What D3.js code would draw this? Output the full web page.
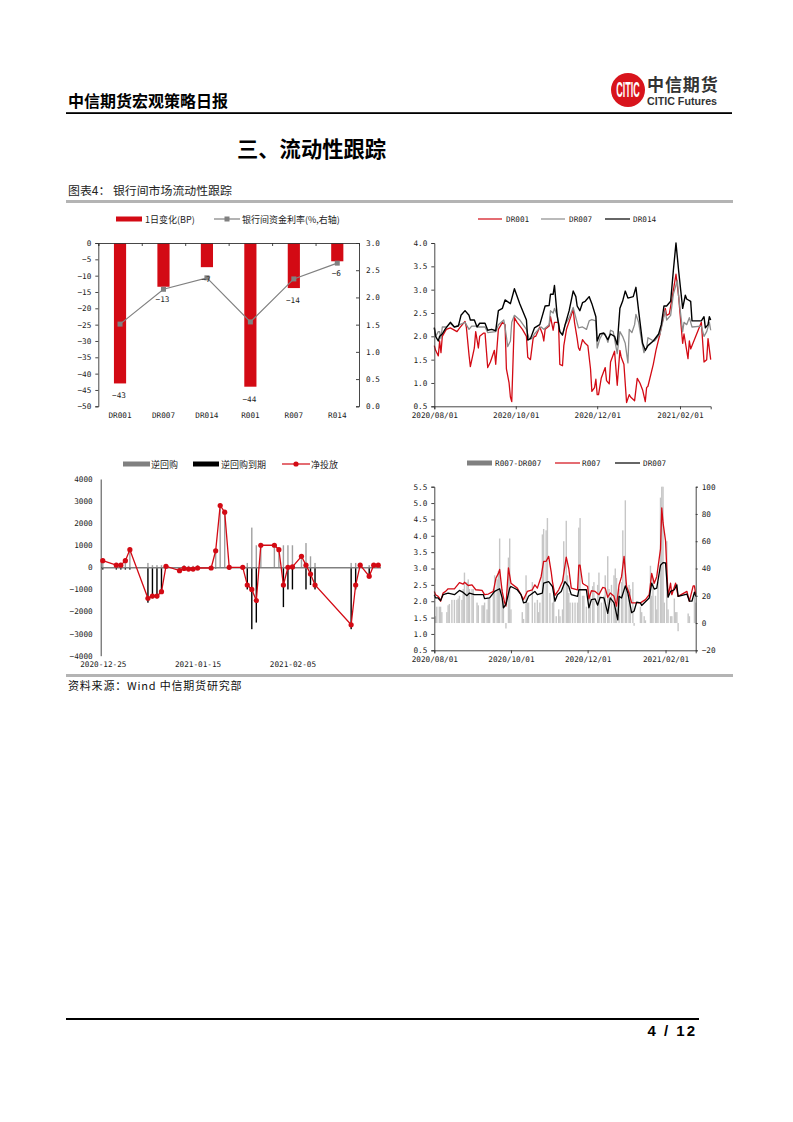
<!DOCTYPE html>
<html><head><meta charset="utf-8">
<script src="https://cdn.jsdelivr.net/npm/d3@7"></script>
<style>
html,body{margin:0;background:#fff}
svg{display:block}
.t{font-family:"DejaVu Sans Mono","Liberation Mono",monospace;font-size:7.7px;fill:#222}
.cn{font-family:"Noto Sans CJK SC",sans-serif;font-size:9px;fill:#222}
.axis text{font-family:"DejaVu Sans Mono","Liberation Mono",monospace;font-size:7.7px;fill:#222}
.axis path,.axis line{stroke:#333;stroke-width:.9}
</style></head><body><svg id="p" width="793" height="1122" xmlns="http://www.w3.org/2000/svg"></svg>
<script>
// ---------- Chart 1
const cat1=["DR001","DR007","DR014","R001","R007","R014"];
const change1=[-43,-13.4,-7.4,-44,-13.8,-5.6];
const rate1=[1.51,2.15,2.36,1.55,2.34,2.63];
// ---------- Chart 2 (days after 2020-08-01)
const dr001Days=[0,1,3,4,5,6,8,9,12,14,17,19,23,24,26,27,30,31,33,34,37,38,40,42,45,46,48,51,53,54,56,57,58,60,62,66,69,70,72,74,75,76,79,81,82,83,86,87,89,90,93,94,96,97,99,102,104,105,107,108,109,111,113,115,117,118,120,121,122,123,125,128,129,131,132,135,137,139,140,142,144,146,147,150,152,154,156,158,159,160,164,166,169,170,173,174,176,178,181,183,184,186,187,190,191,192,200,202,204,205,207];
const dr001=[1.8,1.7,1.58,1.9,1.65,2.0,2.1,2.15,2.18,2.15,2.1,2.18,2.32,2.2,1.6,1.35,1.75,2.1,1.75,2.0,2.07,2.07,1.33,1.45,1.7,1.4,2.15,2.3,2.25,1.3,1.0,0.7,0.6,2.4,2.3,2.15,2.0,1.55,1.5,1.95,2.0,2.0,2.2,2.05,1.9,2.15,2.22,2.42,2.13,2.3,2.3,1.4,1.37,1.8,2.15,2.4,2.58,2.3,1.95,1.75,1.7,1.93,1.85,1.8,1.3,0.82,0.9,1.08,0.75,0.75,1.1,1.33,1.05,0.98,1.45,1.68,0.95,1.7,1.55,1.4,0.58,0.75,0.7,0.62,1.1,1.0,0.85,0.6,0.9,0.93,1.4,1.7,2.05,2.2,2.6,2.45,2.48,2.8,3.33,2.85,2.5,1.85,2.05,1.52,1.9,1.73,2.3,1.45,1.5,1.95,1.5];
const dr007Days=[0,1,3,4,5,6,9,12,15,19,23,26,28,31,33,38,40,46,48,52,53,55,57,58,60,64,69,71,73,75,78,80,82,86,87,89,90,92,94,96,98,101,104,106,108,111,114,116,118,121,122,124,126,128,130,132,134,137,139,141,143,145,146,148,150,151,153,155,157,159,160,163,165,169,171,173,174,177,179,182,183,186,187,189,191,193,200,202,204,206,207];
const dr007=[2.2,2.0,2.1,2.1,1.95,2.2,2.2,2.28,2.2,2.25,2.3,2.15,2.22,2.22,2.2,2.2,2.08,2.1,2.25,2.35,2.2,1.78,1.9,2.3,2.45,2.35,2.15,1.95,1.95,2.05,2.15,2.2,2.15,2.25,2.55,2.5,2.6,2.45,2.1,2.02,2.25,2.4,2.62,2.4,2.18,2.2,2.15,2.33,2.36,2.33,1.75,1.95,2.05,2.05,1.87,2.13,2.1,1.63,2.1,2.0,1.85,1.43,2.15,2.08,2.25,2.47,2.3,1.95,1.65,1.75,1.97,1.92,1.9,2.05,2.3,2.55,2.35,2.45,2.9,3.2,2.85,2.1,2.3,2.25,2.4,2.2,2.22,2.0,2.1,2.3,2.13];
const dr014Days=[0,1,3,4,6,8,12,15,18,20,23,26,27,30,32,34,38,40,43,46,48,51,53,57,60,64,69,70,72,75,79,81,83,86,87,89,90,92,94,96,98,101,104,106,107,109,111,113,116,118,121,122,124,127,130,132,135,137,139,141,143,145,149,151,153,156,158,160,164,168,170,172,174,177,179,181,183,186,188,189,192,193,200,202,203,205,206,207];
const dr014=[2.18,2.0,1.9,2.0,2.05,2.15,2.3,2.2,2.22,2.45,2.55,2.45,2.35,2.35,2.2,2.28,2.28,2.13,2.15,2.12,2.55,2.6,2.78,2.7,3.02,2.7,2.35,1.92,1.95,2.18,2.25,2.45,2.65,2.66,2.9,2.9,3.09,2.45,2.1,2.03,2.25,2.55,2.97,2.85,2.65,2.55,2.72,2.75,2.85,2.7,2.42,1.9,2.05,2.07,1.93,2.05,2.0,1.82,2.6,2.75,2.97,2.82,2.85,3.05,2.55,1.85,1.7,1.8,1.9,2.05,2.25,2.65,2.65,2.75,3.4,4.0,3.4,2.6,2.88,2.8,2.75,2.33,2.33,2.42,2.18,2.25,2.42,2.35];
const monthTicks=["2020-08-01","2020-10-01","2020-12-01","2021-02-01"];
// ---------- Chart 3
const omoDates=["2020-12-25","2020-12-28","2020-12-29","2020-12-30","2020-12-31","2021-01-04","2021-01-05","2021-01-06","2021-01-07","2021-01-08","2021-01-11","2021-01-12","2021-01-13","2021-01-14","2021-01-15","2021-01-18","2021-01-19","2021-01-20","2021-01-21","2021-01-22","2021-01-25","2021-01-26","2021-01-27","2021-01-28","2021-01-29","2021-02-01","2021-02-02","2021-02-03","2021-02-04","2021-02-05","2021-02-07","2021-02-08","2021-02-09","2021-02-10","2021-02-18","2021-02-19","2021-02-20","2021-02-22","2021-02-23","2021-02-24"];
const reverseRepo=[400,200,200,400,900,200,100,100,100,100,0,100,70,70,100,0,800,2800,2500,100,0,200,1800,1000,1000,1000,800,1000,1000,1000,500,1100,500,200,200,200,100,100,100,100];
const repoExpiry=[-100,-100,-100,-100,-100,-1600,-1400,-1400,-1200,-50,-150,-150,-150,-150,-130,-30,-50,0,0,-100,0,-1000,-2800,-2500,0,0,0,-1800,-1000,-1000,0,-1000,-800,-1000,-2800,-1000,0,-500,0,0];
const netInjection=[300,100,100,300,800,-1400,-1300,-1300,-1100,50,-150,-50,-80,-80,-30,-30,750,2800,2500,0,0,-800,-1000,-1500,1000,1000,800,-800,0,20,500,100,-300,-800,-2600,-800,100,-400,100,100];
const omoTicks=["2020-12-25","2021-01-15","2021-02-05"];
// ---------- Chart 4
const spreadDays=[1,2,4,5,6,10,11,12,14,16,18,19,20,22,23,24,26,27,28,30,31,34,35,38,39,40,42,43,44,47,48,50,51,52,54,55,57,59,60,61,70,71,73,74,75,78,80,82,83,84,86,87,89,90,92,94,95,97,99,100,102,103,105,106,107,108,110,112,114,115,116,118,119,121,123,124,126,127,130,131,133,135,136,138,139,141,143,144,145,147,149,150,152,153,155,156,158,159,164,165,167,168,172,173,174,176,177,178,180,181,182,183,185,186,188,189,191,192,193,194,202,203,207,208];
const spread=[5,12,12,12,8,8,13,14,17,17,17,18,20,17,25,37,30,32,25,25,25,15,13,13,13,15,10,18,18,25,35,32,38,62,25,16,-4,48,62,10,8,3,35,15,15,30,15,17,8,15,65,69,68,77,22,15,25,5,10,5,10,60,75,35,22,15,15,15,15,70,77,20,20,12,37,22,27,30,28,37,15,20,35,49,25,28,35,40,33,25,30,68,90,25,28,25,30,-2,12,8,5,2,42,20,33,20,10,30,92,100,100,15,60,10,5,5,18,8,8,-6,7,5,20,15];
const r007Days=[0,1,3,4,5,7,9,11,16,20,23,24,27,30,33,38,40,43,47,49,51,52,54,56,57,59,61,66,69,71,74,78,80,82,85,87,89,91,93,94,96,99,102,105,107,109,114,115,116,118,119,122,123,125,128,131,134,136,138,140,143,145,147,149,151,153,155,157,164,168,171,173,175,177,180,181,182,184,186,188,189,192,194,201,203,206,207,208];
const r007=[2.3,2.2,2.15,2.1,2.0,2.25,2.3,2.38,2.38,2.57,2.52,2.58,2.48,2.5,2.35,2.33,2.2,2.22,2.3,2.7,2.85,2.97,2.3,1.95,1.85,3.02,2.55,2.4,2.2,2.05,2.3,2.35,2.5,2.4,2.75,3.22,3.22,3.37,2.9,2.6,2.18,2.35,2.6,3.35,3.0,2.4,2.35,3.1,3.1,2.55,2.52,2.45,2.07,2.32,2.3,2.2,2.42,2.4,2.12,2.25,2.15,1.85,2.5,2.75,3.37,2.45,2.25,1.95,1.95,2.05,2.2,2.85,2.55,2.75,3.6,4.85,4.4,3.85,2.15,2.55,2.2,2.55,2.15,2.3,2.0,2.47,2.47,2.2];
const dr007bDays=[0,1,3,4,5,7,11,16,20,23,26,28,32,39,40,44,48,52,54,55,57,60,61,66,69,71,73,75,80,82,86,87,91,94,96,98,101,104,107,109,114,115,121,123,125,128,130,132,135,138,140,143,146,147,149,152,154,157,159,161,164,165,171,173,175,177,180,182,184,186,188,191,193,194,201,203,205,207,208];
const dr007b=[2.2,2.1,2.1,2.05,2.02,2.2,2.25,2.2,2.33,2.27,2.17,2.25,2.2,2.2,2.08,2.1,2.3,2.38,2.1,1.8,1.9,2.4,2.45,2.35,2.2,1.95,1.97,2.15,2.3,2.2,2.25,2.55,2.6,2.45,2.0,2.2,2.3,2.6,2.45,2.2,2.15,2.35,2.35,1.8,2.05,2.07,1.88,2.12,2.1,1.63,2.1,1.95,1.43,2.15,2.1,2.47,2.25,1.65,1.7,1.97,1.95,1.87,2.1,2.55,2.37,2.4,3.1,3.18,3.17,2.12,2.3,2.35,2.5,2.15,2.22,2.0,2.0,2.28,2.15];

const RED="#d30a14",GRAY="#808080",BLK="#000";
const svg=d3.select("#p");
const pd=d3.utcParse("%Y-%m-%d");
const startDay=pd("2020-08-01");
const off=n=>d3.utcDay.offset(startDay,n);
const txt=(x,y,s,o={})=>{const e=svg.append("text").attr("x",x).attr("y",y).text(s).attr("class",o.cls||null)
  .attr("text-anchor",o.a||"start").attr("dominant-baseline","central");
  if(o.font)e.style("font-family",o.font); if(o.size)e.style("font-size",o.size+"px");
  if(o.w)e.style("font-weight",o.w); if(o.fill)e.style("fill",o.fill); if(o.ls)e.style("letter-spacing",o.ls+"px"); return e;};
const rect=(x,y,w,h,f)=>svg.append("rect").attr("x",x).attr("y",y).attr("width",w).attr("height",h).attr("fill",f);
const CJK='"Noto Sans CJK SC",sans-serif';

// page furniture
txt(68,100,"中信期货宏观策略日报",{font:CJK,size:16,w:700,fill:"#000"});
rect(66,112.2,666,1.8,"#000");
txt(237,147,"三、流动性跟踪",{font:CJK,size:21.3,w:700,fill:"#000"});
txt(68,189.5,"图表4： 银行间市场流动性跟踪",{font:CJK,size:11.9,fill:"#222"});
rect(66,200,667,3,"#b4b4b4");
rect(66,674,667,3,"#b4b4b4");
txt(68,685,"资料来源：Wind 中信期货研究部",{font:CJK,size:11,fill:"#111",ls:.8});
rect(66,1018,633,2,"#000");
txt(697,1030,"4 / 12",{font:'"Liberation Sans",sans-serif',size:15,w:700,fill:"#000",a:"end",ls:2});
// logo
svg.append("circle").attr("cx",628).attr("cy",90).attr("r",17).attr("fill","#d8141c");
svg.append("text").attr("transform","translate(628,90) scale(.95,2.3)").attr("text-anchor","middle").attr("dominant-baseline","central")
 .text("CITIC").style("font-family",'"Liberation Sans",sans-serif').style("font-size","9.5px").style("font-weight",700).style("fill","#fff");
txt(647,83.5,"中信期货",{font:CJK,size:17,w:700,fill:"#333",ls:.9});
txt(647,100.5,"CITIC Futures",{font:'"Liberation Sans",sans-serif',size:10.7,w:700,fill:"#333"});

// legend helpers
const lgSwatch=(x0,x1,y,c,label,tx,cls)=>{rect(x0,y-2.5,x1-x0,5,c);txt(tx,y,label,{cls:cls||"cn"});};
const lgLine=(x0,x1,y,c,label,tx,mark,cls)=>{
  svg.append("line").attr("x1",x0).attr("x2",x1).attr("y1",y).attr("y2",y).attr("stroke",c).attr("stroke-width",1.2);
  const m=(x0+x1)/2;
  if(mark==="sq")rect(m-2.5,y-2.5,5,5,c);
  if(mark==="c")svg.append("circle").attr("cx",m).attr("cy",y).attr("r",2.6).attr("fill",c);
  txt(tx,y,label,{cls:cls||"cn"});};
const G=(x,y,c="axis")=>svg.append("g").attr("class",c).attr("transform",`translate(${x},${y})`);

// ---------- Chart 1 draw
{
 const L=98.3,R=359,T=243,B=406.3;
 const x=d3.scaleBand().domain(cat1).range([L,R]).paddingInner(.72).paddingOuter(.36);
 const y=d3.scaleLinear().domain([-50,0]).range([B,T]);
 const yr=d3.scaleLinear().domain([0,3]).range([B,T]);
 const cx=c=>x(c)+x.bandwidth()/2;
 svg.append("g").selectAll("rect").data(cat1).join("rect").attr("x",d=>x(d)).attr("width",x.bandwidth())
  .attr("y",T).attr("height",(d,i)=>y(change1[i])-T).attr("fill",RED);
 G(L,0).call(d3.axisLeft(y).tickValues(d3.range(-50,1,5)).tickSize(3).tickPadding(4));
 G(R,0).call(d3.axisLeft(yr).tickValues(d3.range(0,3.01,.5)).tickFormat(d3.format(".1f")).tickSize(3)).selectAll("text").attr("x",7).attr("text-anchor","start");
 const edge=d3.scaleLinear().domain([0,6]).range([L,R]);
 G(0,T).call(d3.axisBottom(edge).tickValues(d3.range(0,7)).tickFormat("").tickSize(3));
 G(0,B+4.5).call(d3.axisBottom(x).tickSize(0).tickPadding(2)).call(g=>g.select(".domain").remove());
 svg.append("path").datum(rate1).attr("fill","none").attr("stroke",GRAY).attr("stroke-width",1.2)
  .attr("d",d3.line().x((d,i)=>cx(cat1[i])).y(d=>yr(d)));
 svg.append("g").selectAll("rect").data(rate1).join("rect").attr("x",(d,i)=>cx(cat1[i])-2.5).attr("y",d=>yr(d)-2.5).attr("width",5).attr("height",5).attr("fill",GRAY);
 const f=d3.format(".0f");
 cat1.forEach((c,i)=>txt(cx(c)-1,y(change1[i])+12.5,f(change1[i]),{cls:"t",a:"middle"}));
 lgSwatch(116,142,219,RED,"1日变化(BP)",145);
 lgLine(214,240,219,GRAY,"银行间资金利率(%,右轴)",242,"sq");
}
// ---------- line chart helper
function monthAxis(x,yy){G(0,yy).call(d3.axisBottom(x).tickValues(monthTicks.map(pd)).tickFormat(d3.utcFormat("%Y/%m/%d")).tickSize(3).tickPadding(3));}
function drawLine(x,y,days,vals,c,w){svg.append("path").datum(vals).attr("fill","none").attr("stroke",c).attr("stroke-width",w).attr("stroke-linejoin","round")
  .attr("d",d3.line().x((d,i)=>x(off(days[i]))).y(d=>y(d)));}
// ---------- Chart 2 draw
{
 const L=434.3,R=710.7,T=243,B=406.3;
 const x=d3.scaleUtc().domain([off(0),off(207.8)]).range([L,R]);
 const y=d3.scaleLinear().domain([.5,4]).range([B,T]);
 drawLine(x,y,dr001Days,dr001,RED,1.3);
 drawLine(x,y,dr007Days,dr007,"#8c8c8c",1.3);
 drawLine(x,y,dr014Days,dr014,BLK,1.4);
 G(L,0).call(d3.axisLeft(y).tickValues(d3.range(.5,4.01,.5)).tickFormat(d3.format(".1f")).tickSize(3).tickPadding(4));
 monthAxis(x,B);
 lgLine(478,502,219,RED,"DR001",506,null,"t");
 lgLine(541,565,219,"#8c8c8c","DR007",569,null,"t");
 lgLine(605,630,219,BLK,"DR014",633,null,"t");
}
// ---------- Chart 3 draw
{
 const L=100.7,R=380.5,T=479,B=655.7;
 const x=d3.scaleUtc().domain([d3.utcHour.offset(pd("2020-12-25"),-11),d3.utcHour.offset(pd("2021-02-24"),12)]).range([L,R]);
 const y=d3.scaleLinear().domain([-4000,4000]).range([B,T]);
 const dates=omoDates.map(pd);
 svg.append("g").selectAll("rect").data(reverseRepo).join("rect").attr("x",(d,i)=>x(dates[i])-.7).attr("width",1.4).attr("y",d=>y(d)).attr("height",d=>y(0)-y(d)).attr("fill",GRAY).attr("opacity",.75);
 svg.append("g").selectAll("rect").data(repoExpiry).join("rect").attr("x",(d,i)=>x(dates[i])-.7).attr("width",1.4).attr("y",y(0)).attr("height",d=>y(d)-y(0)).attr("fill",BLK);
 G(0,y(0),"z").call(d3.axisBottom(x).tickValues([]).tickSize(0)).call(g=>g.select(".domain").attr("stroke",GRAY).attr("stroke-width",1.5));
 G(L,0).call(d3.axisLeft(y).tickValues(d3.range(-4000,4001,1000)).tickFormat(d3.format("d")).tickSize(0).tickPadding(8));
 G(0,B+5).call(d3.axisBottom(x).tickValues(omoTicks.map(pd)).tickFormat(d3.utcFormat("%Y-%m-%d")).tickSize(0).tickPadding(1)).call(g=>g.select(".domain").remove());
 svg.append("path").datum(netInjection).attr("fill","none").attr("stroke",RED).attr("stroke-width",1.3)
  .attr("d",d3.line().x((d,i)=>x(dates[i])).y(d=>y(d)));
 svg.append("g").selectAll("circle").data(netInjection).join("circle").attr("cx",(d,i)=>x(dates[i])).attr("cy",d=>y(d)).attr("r",2.6).attr("fill",RED);
 lgSwatch(123,150,464,GRAY,"逆回购",151);
 lgSwatch(193,219,464,BLK,"逆回购到期",221);
 lgLine(282,310,464,RED,"净投放",311,"c");
}
// ---------- Chart 4 draw
{
 const L=434.3,R=695.7,T=486.7,B=650.3;
 const x=d3.scaleUtc().domain([off(0),off(208.5)]).range([L,R]);
 const y=d3.scaleLinear().domain([.5,5.5]).range([B,T]);
 const yr=d3.scaleLinear().domain([-20,100]).range([B,T]);
 svg.append("g").selectAll("rect").data(spread).join("rect").attr("x",(d,i)=>x(off(spreadDays[i]))-.7).attr("width",1.4)
  .attr("y",d=>yr(Math.max(d,0))).attr("height",d=>Math.abs(yr(d)-yr(0))).attr("fill","#c6c6c6");
 drawLine(x,y,r007Days,r007,RED,1.3);
 drawLine(x,y,dr007bDays,dr007b,BLK,1.3);
 G(L,0).call(d3.axisLeft(y).tickValues(d3.range(.5,5.51,.5)).tickFormat(d3.format(".1f")).tickSize(3).tickPadding(4));
 G(R,0).call(d3.axisRight(yr).tickValues(d3.range(-20,101,20)).tickSize(2).tickPadding(4));
 monthAxis(x,B);
 lgSwatch(467,492,463,GRAY,"R007-DR007",495,"t");
 lgLine(555,580,463,RED,"R007",582,null,"t");
 lgLine(615,640,463,BLK,"DR007",643,null,"t");
}
</script></body></html>
